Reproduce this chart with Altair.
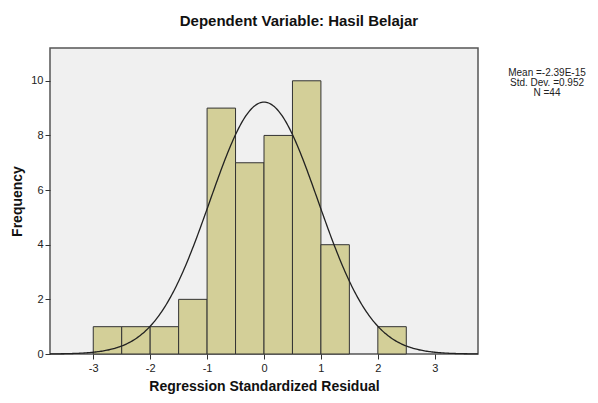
import altair as alt
import pandas as pd

bin_start = [-3.0, -2.5, -2.0, -1.5, -1.0, -0.5, 0.0, 0.5, 1.0, 1.5, 2.0]
bin_end = [-2.5, -2.0, -1.5, -1.0, -0.5, 0.0, 0.5, 1.0, 1.5, 2.0, 2.5]
counts = [1, 1, 1, 2, 9, 7, 8, 10, 4, 0, 1]

mean = -2.39e-15
sd = 0.952
n = 44
bin_width = 0.5

x_ticks = [-3, -2, -1, 0, 1, 2, 3]
y_ticks = [0, 2, 4, 6, 8, 10]
stats_lines = ["Mean =-2.39E-15", "Std. Dev. =0.952", "N =44"]

FONT = "Liberation Sans"
XDOM = [-3.76, 3.76]
YDOM = [0, 11.2]

bars_df = pd.DataFrame({"x0": bin_start, "x1": bin_end, "count": counts})
bars_df = bars_df[bars_df["count"] > 0]

xscale = alt.Scale(domain=XDOM, nice=False, zero=False)
yscale = alt.Scale(domain=YDOM, nice=False)

xaxis = alt.Axis(values=x_ticks, title="Regression Standardized Residual", grid=False,
                 labelExpr="'' + datum.value",
                 domain=False, tickSize=5, tickColor="#333", labelFont=FONT, labelFontSize=11,
                 labelColor="#222", titleFont=FONT, titleFontSize=14, titleFontWeight="bold",
                 titleColor="#111", labelPadding=3, titlePadding=6)
yaxis = alt.Axis(values=y_ticks, title="Frequency", grid=False, domain=False, tickSize=5,
                 labelExpr="'' + datum.value",
                 tickColor="#333", labelFont=FONT, labelFontSize=11, labelColor="#222",
                 titleFont=FONT, titleFontSize=14, titleFontWeight="bold", titleColor="#111",
                 labelPadding=2, titlePadding=6)

bars = alt.Chart(bars_df).mark_rect(fill="#D3CF98", stroke="#333", strokeWidth=1).encode(
    x=alt.X("x0:Q", scale=xscale, axis=xaxis),
    x2="x1:Q",
    y=alt.Y("count:Q", scale=yscale, axis=yaxis),
    y2=alt.datum(0),
)

curve = alt.Chart(alt.sequence(XDOM[0], XDOM[1] + 0.001, 0.02, as_="xv")).transform_calculate(
    yv=f"{n}*{bin_width}/({sd}*sqrt(2*PI))*exp(-0.5*pow((datum.xv-({mean}))/{sd},2))"
).mark_line(color="#222", strokeWidth=1.3).encode(
    x=alt.X("xv:Q", scale=xscale),
    y=alt.Y("yv:Q", scale=yscale),
)

stats = alt.layer(*[
    alt.Chart(pd.DataFrame({"t": [s]})).mark_text(font=FONT, fontSize=10, color="#222",
                                                   align="center", baseline="middle").encode(
        x=alt.value(497), y=alt.value(25 + 10 * k), text="t:N")
    for k, s in enumerate(stats_lines)
])

chart = alt.layer(bars, curve, stats).properties(
    width=428, height=306,
    title=alt.TitleParams("Dependent Variable: Hasil Belajar", font=FONT, fontSize=15,
                          fontWeight="bold", color="#111", anchor="middle", offset=19, dx=35),
    autosize=alt.AutoSizeParams(type="none"),
    padding={"left": 42, "top": 40, "right": 112, "bottom": 41},
).configure_view(fill="#F0F0F0", stroke="#555", strokeWidth=1.5)

chart.save("out.html", embed_options={"renderer": "svg", "actions": False})
